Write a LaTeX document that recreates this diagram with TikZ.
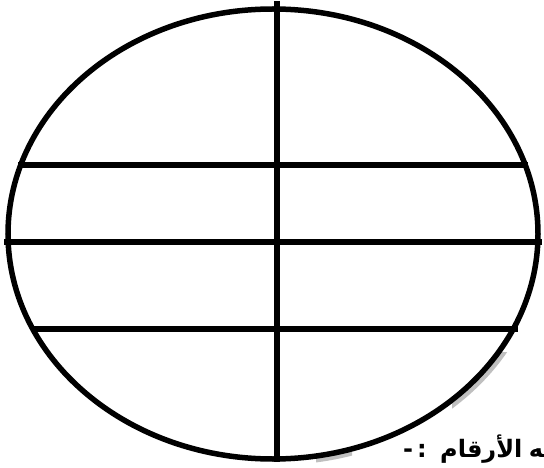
\documentclass[tikz,border=0pt]{standalone}
\usepackage{fontspec}
\usetikzlibrary{positioning}
\newfontfamily\arabicfont[Script=Arabic]{DejaVu Sans}

\begin{document}
\begin{tikzpicture}[
    x=1pt, y=-1pt,
    rim/.style={draw=black, line width=5.5pt},
    bar/.style={draw=black, line width=6.5pt},
    shade/.style={fill=black!25},
    notetext/.style={font=\fontsize{24}{26}\arabicfont\bfseries, inner sep=0pt}
]
    \clip (0,0) rectangle (544,468);

    % grey shadow bits
    \begin{scope}
        \clip (452,352) rectangle (512,412);
        \fill[shade] (278,239) ellipse [x radius=265, y radius=225];
    \end{scope}
    \begin{scope}
        \clip (316,452) rectangle (352,470);
        \fill[shade] (276,240) ellipse [x radius=265, y radius=225];
    \end{scope}

    \filldraw[rim, fill=white] (273,234) ellipse [x radius=265, y radius=225];

    \coordinate (top) at (277,1);
    \coordinate (bottom) at (277,462);
    \coordinate (l1) at (18,165);   \coordinate (r1) at (528,165);
    \coordinate (l2) at (4,242);    \coordinate (r2) at (542,242);
    \coordinate (l3) at (32,329);   \coordinate (r3) at (518,329);

    \draw[bar] (top) -- (bottom);
    \draw[bar] (l1) -- (r1);
    \draw[bar] (l2) -- (r2);
    \draw[bar] (l3) -- (r3);

    \node[notetext, anchor=base west] (colon) at (403,457) {-\,:};
    \node[notetext, base right=13pt of colon] (word2) {الأرقام};
    \node[notetext, base right=6pt of word2] (word1) {فيه};
\end{tikzpicture}
\end{document}
